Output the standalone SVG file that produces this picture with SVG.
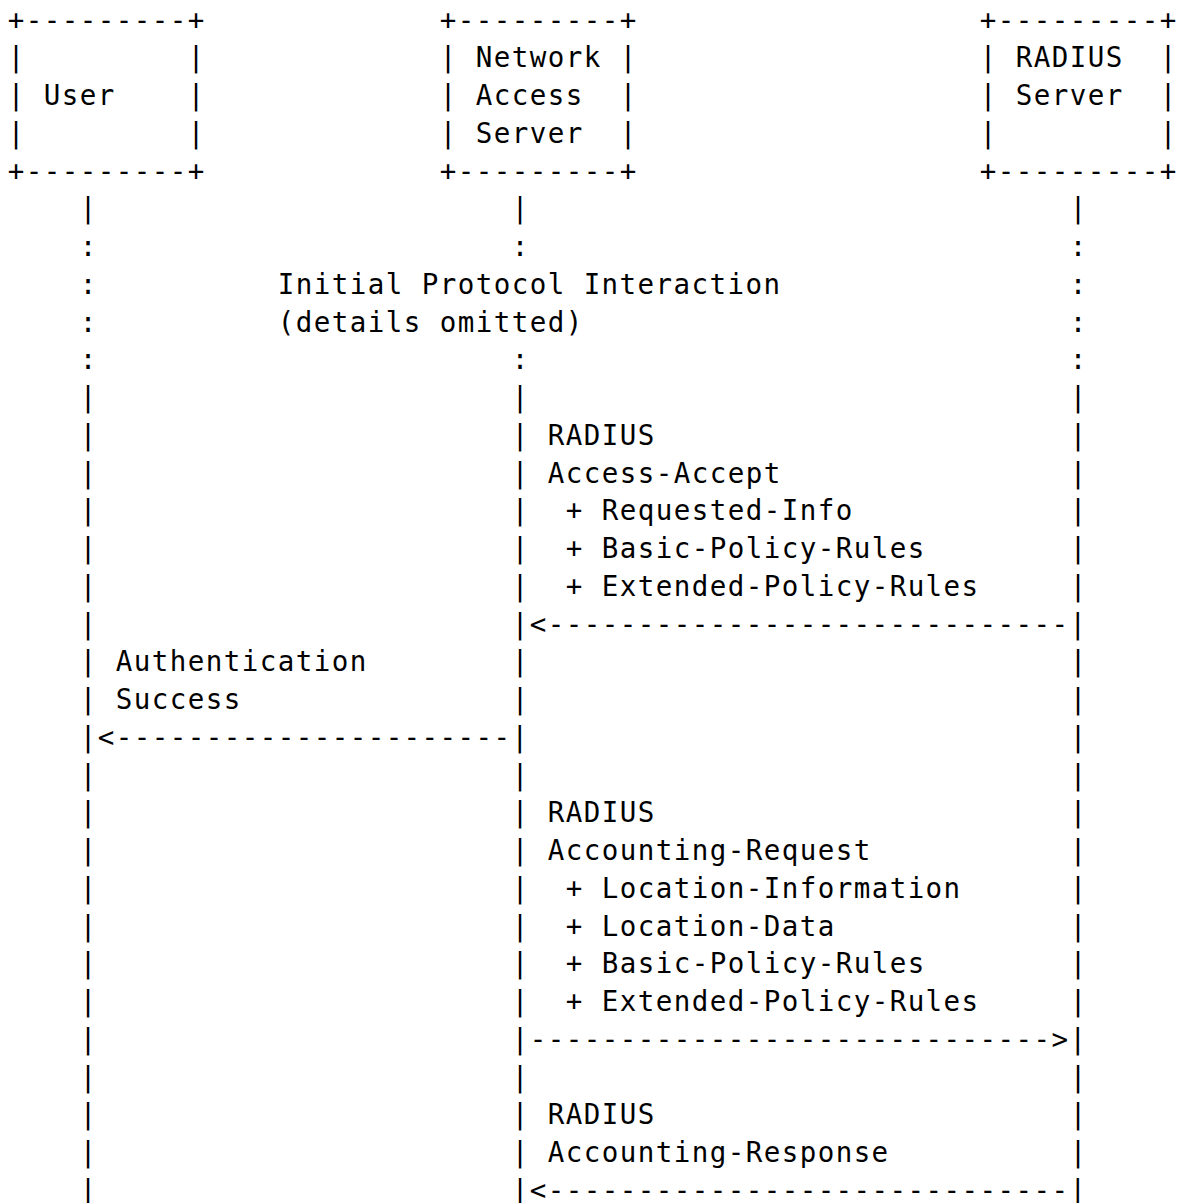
<svg xmlns="http://www.w3.org/2000/svg" width="1182" height="1203" viewBox="0 0 1182 1203">
<style>
text { font-family: "DejaVu Sans Mono", "Liberation Mono", monospace; font-size: 27.5px; letter-spacing: 1.44px; fill: #000; }
</style>
<rect width="1182" height="1203" fill="#fff"/>
<g id="node-user">
  <text x="7.7" y="29.5">+---------+</text>
  <text><tspan x="7.7" y="67.25">|</tspan><tspan x="187.7" y="67.25">|</tspan></text>
  <text><tspan x="7.7" y="105">|</tspan><tspan x="43.7" y="105">User</tspan><tspan x="187.7" y="105">|</tspan></text>
  <text><tspan x="7.7" y="142.75">|</tspan><tspan x="187.7" y="142.75">|</tspan></text>
  <text x="7.7" y="180.5">+---------+</text>
</g>
<g id="node-nas">
  <text x="439.7" y="29.5">+---------+</text>
  <text><tspan x="439.7" y="67.25">|</tspan><tspan x="475.7" y="67.25">Network</tspan><tspan x="619.7" y="67.25">|</tspan></text>
  <text><tspan x="439.7" y="105">|</tspan><tspan x="475.7" y="105">Access</tspan><tspan x="619.7" y="105">|</tspan></text>
  <text><tspan x="439.7" y="142.75">|</tspan><tspan x="475.7" y="142.75">Server</tspan><tspan x="619.7" y="142.75">|</tspan></text>
  <text x="439.7" y="180.5">+---------+</text>
</g>
<g id="node-radius">
  <text x="979.7" y="29.5">+---------+</text>
  <text><tspan x="979.7" y="67.25">|</tspan><tspan x="1015.7" y="67.25">RADIUS</tspan><tspan x="1159.7" y="67.25">|</tspan></text>
  <text><tspan x="979.7" y="105">|</tspan><tspan x="1015.7" y="105">Server</tspan><tspan x="1159.7" y="105">|</tspan></text>
  <text><tspan x="979.7" y="142.75">|</tspan><tspan x="1159.7" y="142.75">|</tspan></text>
  <text x="979.7" y="180.5">+---------+</text>
</g>
<g id="connectors">
  <!-- User lifeline (col 4) -->
  <text>
    <tspan x="79.7" y="218.25">|</tspan>
    <tspan x="79.7" y="256">:</tspan>
    <tspan x="79.7" y="293.75">:</tspan>
    <tspan x="79.7" y="331.5">:</tspan>
    <tspan x="79.7" y="369.25">:</tspan>
    <tspan x="79.7" y="407">|</tspan>
    <tspan x="79.7" y="444.75">|</tspan>
    <tspan x="79.7" y="482.5">|</tspan>
    <tspan x="79.7" y="520.25">|</tspan>
    <tspan x="79.7" y="558">|</tspan>
    <tspan x="79.7" y="595.75">|</tspan>
    <tspan x="79.7" y="633.5">|</tspan>
    <tspan x="79.7" y="671.25">|</tspan>
    <tspan x="79.7" y="709">|</tspan>
    <tspan x="79.7" y="784.5">|</tspan>
    <tspan x="79.7" y="822.25">|</tspan>
    <tspan x="79.7" y="860">|</tspan>
    <tspan x="79.7" y="897.75">|</tspan>
    <tspan x="79.7" y="935.5">|</tspan>
    <tspan x="79.7" y="973.25">|</tspan>
    <tspan x="79.7" y="1011">|</tspan>
    <tspan x="79.7" y="1048.75">|</tspan>
    <tspan x="79.7" y="1086.5">|</tspan>
    <tspan x="79.7" y="1124.25">|</tspan>
    <tspan x="79.7" y="1162">|</tspan>
    <tspan x="79.7" y="1199.75">|</tspan>
  </text>
  <!-- NAS lifeline (col 28) -->
  <text>
    <tspan x="511.7" y="218.25">|</tspan>
    <tspan x="511.7" y="256">:</tspan>
    <tspan x="511.7" y="369.25">:</tspan>
    <tspan x="511.7" y="407">|</tspan>
    <tspan x="511.7" y="444.75">|</tspan>
    <tspan x="511.7" y="482.5">|</tspan>
    <tspan x="511.7" y="520.25">|</tspan>
    <tspan x="511.7" y="558">|</tspan>
    <tspan x="511.7" y="595.75">|</tspan>
    <tspan x="511.7" y="671.25">|</tspan>
    <tspan x="511.7" y="709">|</tspan>
    <tspan x="511.7" y="784.5">|</tspan>
    <tspan x="511.7" y="822.25">|</tspan>
    <tspan x="511.7" y="860">|</tspan>
    <tspan x="511.7" y="897.75">|</tspan>
    <tspan x="511.7" y="935.5">|</tspan>
    <tspan x="511.7" y="973.25">|</tspan>
    <tspan x="511.7" y="1011">|</tspan>
    <tspan x="511.7" y="1086.5">|</tspan>
    <tspan x="511.7" y="1124.25">|</tspan>
    <tspan x="511.7" y="1162">|</tspan>
  </text>
  <!-- RADIUS lifeline (col 59) -->
  <text>
    <tspan x="1069.7" y="218.25">|</tspan>
    <tspan x="1069.7" y="256">:</tspan>
    <tspan x="1069.7" y="293.75">:</tspan>
    <tspan x="1069.7" y="331.5">:</tspan>
    <tspan x="1069.7" y="369.25">:</tspan>
    <tspan x="1069.7" y="407">|</tspan>
    <tspan x="1069.7" y="444.75">|</tspan>
    <tspan x="1069.7" y="482.5">|</tspan>
    <tspan x="1069.7" y="520.25">|</tspan>
    <tspan x="1069.7" y="558">|</tspan>
    <tspan x="1069.7" y="595.75">|</tspan>
    <tspan x="1069.7" y="671.25">|</tspan>
    <tspan x="1069.7" y="709">|</tspan>
    <tspan x="1069.7" y="746.75">|</tspan>
    <tspan x="1069.7" y="784.5">|</tspan>
    <tspan x="1069.7" y="822.25">|</tspan>
    <tspan x="1069.7" y="860">|</tspan>
    <tspan x="1069.7" y="897.75">|</tspan>
    <tspan x="1069.7" y="935.5">|</tspan>
    <tspan x="1069.7" y="973.25">|</tspan>
    <tspan x="1069.7" y="1011">|</tspan>
    <tspan x="1069.7" y="1086.5">|</tspan>
    <tspan x="1069.7" y="1124.25">|</tspan>
    <tspan x="1069.7" y="1162">|</tspan>
  </text>
  <!-- arrows -->
  <text x="511.7" y="633.5">|&lt;-----------------------------|</text>
  <text x="79.7" y="746.75">|&lt;----------------------|</text>
  <text x="511.7" y="1048.75">|-----------------------------&gt;|</text>
  <text x="511.7" y="1199.75">|&lt;-----------------------------|</text>
</g>
<g id="labels">
  <text x="277.7" y="293.75">Initial Protocol Interaction</text>
  <text x="277.7" y="331.5">(details omitted)</text>
  <text x="547.7" y="444.75">RADIUS</text>
  <text x="547.7" y="482.5">Access-Accept</text>
  <text><tspan x="565.7" y="520.25">+</tspan><tspan x="601.7" y="520.25">Requested-Info</tspan></text>
  <text><tspan x="565.7" y="558">+</tspan><tspan x="601.7" y="558">Basic-Policy-Rules</tspan></text>
  <text><tspan x="565.7" y="595.75">+</tspan><tspan x="601.7" y="595.75">Extended-Policy-Rules</tspan></text>
  <text x="115.7" y="671.25">Authentication</text>
  <text x="115.7" y="709">Success</text>
  <text x="547.7" y="822.25">RADIUS</text>
  <text x="547.7" y="860">Accounting-Request</text>
  <text><tspan x="565.7" y="897.75">+</tspan><tspan x="601.7" y="897.75">Location-Information</tspan></text>
  <text><tspan x="565.7" y="935.5">+</tspan><tspan x="601.7" y="935.5">Location-Data</tspan></text>
  <text><tspan x="565.7" y="973.25">+</tspan><tspan x="601.7" y="973.25">Basic-Policy-Rules</tspan></text>
  <text><tspan x="565.7" y="1011">+</tspan><tspan x="601.7" y="1011">Extended-Policy-Rules</tspan></text>
  <text x="547.7" y="1124.25">RADIUS</text>
  <text x="547.7" y="1162">Accounting-Response</text>
</g>
</svg>
